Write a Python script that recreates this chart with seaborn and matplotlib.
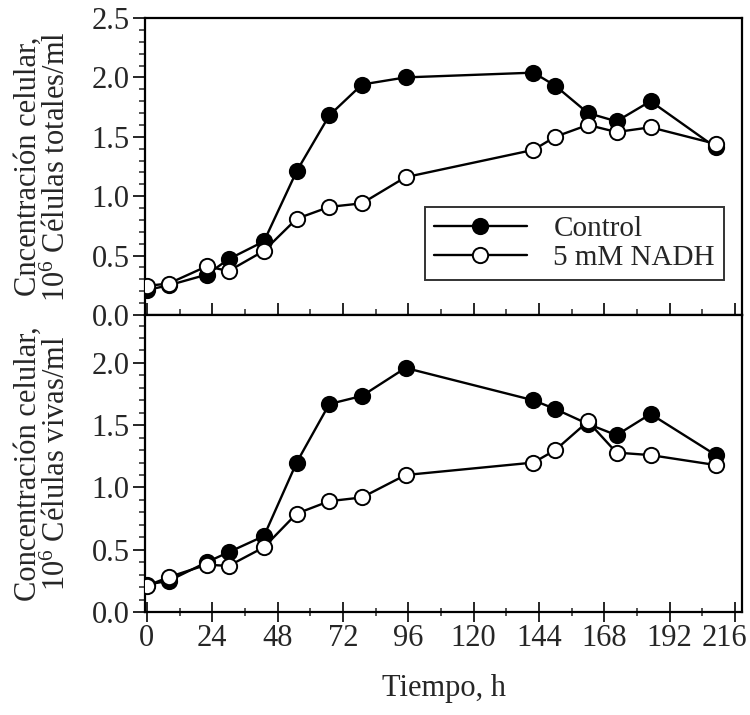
import matplotlib
matplotlib.use("Agg")
import matplotlib.pyplot as plt
import matplotlib.transforms as mtransforms
import seaborn as sns
import pandas as pd
import numpy as np
from matplotlib.ticker import MultipleLocator

# ---- data ----
tiempo = [0, 8, 22, 30, 43, 55, 67, 79, 95, 142, 150, 162, 172.5, 185, 209]
control_totales = [0.21, 0.25, 0.34, 0.47, 0.62, 1.21, 1.68, 1.94, 2.00, 2.04, 1.93, 1.70, 1.63, 1.80, 1.41]
nadh_totales = [0.245, 0.265, 0.41, 0.37, 0.54, 0.81, 0.91, 0.94, 1.16, 1.39, 1.50, 1.60, 1.54, 1.58, 1.44]
control_vivas = [0.22, 0.25, 0.40, 0.48, 0.61, 1.20, 1.67, 1.735, 1.96, 1.70, 1.63, 1.51, 1.42, 1.59, 1.26]
nadh_vivas = [0.21, 0.28, 0.38, 0.37, 0.52, 0.79, 0.89, 0.92, 1.10, 1.20, 1.30, 1.53, 1.28, 1.26, 1.18]
series_names = ["Control", "5 mM NADH"]
ylabels = ["Cncentración celular,\n10$^6$ Células totales/ml",
           "Concentración celular,\n10$^6$ Células vivas/ml"]
xlabel = "Tiempo, h"
xticks = [0, 24, 48, 72, 96, 120, 144, 168, 192, 216]

sns.set_style("ticks")
plt.rcParams["font.family"] = ["Liberation Serif", "DejaVu Serif"]
plt.rcParams["mathtext.fontset"] = "custom"
plt.rcParams["mathtext.rm"] = "Liberation Serif"
plt.rcParams["mathtext.it"] = "Liberation Serif:italic"

fig = plt.figure(figsize=(7.5, 7.15), dpi=100)
L, R = 145 / 750, 742 / 750
ax1 = fig.add_axes([L, 1 - 315 / 715, R - L, (315 - 18) / 715])
ax2 = fig.add_axes([L, 1 - 612 / 715, R - L, (612 - 315) / 715], sharex=ax1)

panels = [(ax1, control_totales, nadh_totales, 2.5),
          (ax2, control_vivas, nadh_vivas, 2.385)]

fs = 22
for i, (ax, c, n, ytop) in enumerate(panels):
    df = pd.DataFrame({"t": tiempo, "c": c, "n": n})
    sns.lineplot(data=df, x="t", y="c", ax=ax, color="black", lw=1.7,
                 marker="o", markersize=11, markerfacecolor="black",
                 markeredgecolor="black", markeredgewidth=1.4,
                 label=series_names[0], zorder=3)
    sns.lineplot(data=df, x="t", y="n", ax=ax, color="black", lw=1.7,
                 marker="o", markersize=11, markerfacecolor="white",
                 markeredgecolor="black", markeredgewidth=1.4,
                 label=series_names[1], zorder=4)
    ax.set_ylim(0, ytop)
    ax.set_xlim(-0.7, 218.6)
    ax.yaxis.set_minor_locator(MultipleLocator(0.1))
    yt = np.arange(0, ytop + 0.01, 0.5)
    ax.set_yticks(yt)
    ax.set_yticklabels([f"{v:.1f}" for v in yt])
    ax.set_xticks(xticks)
    ax.set_xticklabels([str(v) for v in xticks])
    ax.xaxis.set_minor_locator(MultipleLocator(12))
    ax.tick_params(axis="y", which="major", direction="out", length=9, width=1.4,
                   labelsize=fs, pad=2, right=False)
    ax.tick_params(axis="y", which="minor", direction="out", length=4, width=1.1, right=False)
    if i == 0:
        ax.tick_params(axis="x", which="major", direction="in", length=9, width=1.4,
                       labelsize=fs, top=False)
        ax.tick_params(axis="x", which="minor", direction="in", length=4, width=1.1, top=False)
    else:
        ax.tick_params(axis="x", which="major", direction="inout", length=14, width=1.4,
                       labelsize=fs, pad=2, top=False)
        ax.tick_params(axis="x", which="minor", direction="inout", length=6, width=1.1, top=False)
    for s in ax.spines.values():
        s.set_linewidth(1.6)
        s.set_color("black")
    ax.set_ylabel(ylabels[i], fontsize=fs, linespacing=1.0)
    ax.yaxis.set_label_coords(-0.122, 0.5)
    ax.set_xlabel("")
    if i == 0:
        leg = ax.legend(loc="lower left", bbox_to_anchor=((425 - 145) / 597, (315 - 280) / 297),
                        fontsize=21, frameon=True, fancybox=False,
                        handlelength=3.2, handletextpad=0.9, borderpad=0.3,
                        labelspacing=0.1, borderaxespad=0)
        leg.get_frame().set_edgecolor("black")
        leg.get_frame().set_linewidth(1.4)
        plt.setp(ax.get_xticklabels(), visible=False)
    elif ax.get_legend():
        ax.get_legend().remove()

# keep the last tick label inside the figure
last = ax2.get_xticklabels()[-1]
last.set_transform(last.get_transform() +
                   mtransforms.ScaledTranslation(-10 / 100, 0, fig.dpi_scale_trans))

ax2.set_xlabel(xlabel, fontsize=fs, labelpad=15)

fig.savefig("out.png", dpi=100, facecolor="white")
